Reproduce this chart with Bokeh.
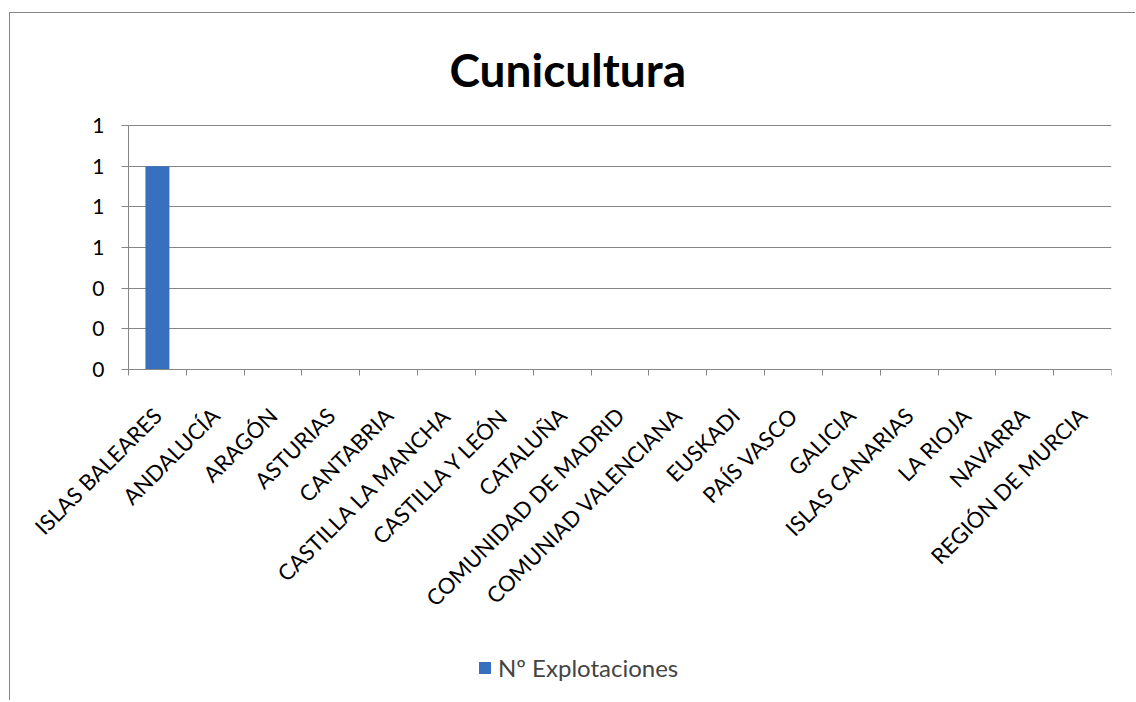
import math
from bokeh.plotting import figure
from bokeh.models import Range1d, FixedTicker, ColumnDataSource, Legend, LegendItem, Title
from bokeh.embed import file_html
from bokeh.resources import INLINE

# ---- data ----
categories = ["ISLAS BALEARES", "ANDALUCÍA", "ARAGÓN", "ASTURIAS", "CANTABRIA",
              "CASTILLA LA MANCHA", "CASTILLA Y LEÓN", "CATALUÑA", "COMUNIDAD DE MADRID",
              "COMUNIAD VALENCIANA", "EUSKADI", "PAÍS VASCO", "GALICIA", "ISLAS CANARIAS",
              "LA RIOJA", "NAVARRA", "REGIÓN DE MURCIA"]
explotaciones = [1, 0, 0, 0, 0, 0, 0, 0, 0, 0, 0, 0, 0, 0, 0, 0, 0]
y_ticks = [0, 0.2, 0.4, 0.6, 0.8, 1, 1.2]
y_tick_labels = ["0", "0", "0", "1", "1", "1", "1"]
series_name = "Nº Explotaciones"
title_text = "Cunicultura"

GRAY = "#868686"
FONT = "Lato"

# ---- layout plan (pixels, canvas coordinates) ----
W, H = 1126, 688
TOP, LEFT, RIGHT, BOTTOM = 95, 3, 25, 5
AXIS_TOP = 112          # canvas y of the top of the value axis
AXIS_H = 244            # height of the value axis (0 .. 1.2)
AXIS_W = 983            # width of the category axis
AXIS_X0 = 118           # canvas x of the value axis
Y_MAX = 1.2
n = len(categories)

px_y = AXIS_H / Y_MAX
frame_h = H - TOP - BOTTOM
y_end = Y_MAX + (AXIS_TOP - TOP) / px_y
y_start = y_end - frame_h / px_y

px_x = AXIS_W / n
frame_w = W - LEFT - RIGHT
x_end = n
x_start = x_end - frame_w / px_x

centers = [i + 0.5 for i in range(n)]
source = ColumnDataSource(dict(x=centers, top=explotaciones, cat=categories))

p = figure(width=W, height=H,
           x_range=Range1d(x_start, x_end), y_range=Range1d(y_start, y_end),
           output_backend="svg", toolbar_location=None,
           min_border_left=LEFT, min_border_right=RIGHT,
           min_border_top=TOP, min_border_bottom=BOTTOM)
p.styles = {"border-left": "1px solid " + GRAY, "border-top": "1px solid " + GRAY,
            "margin-left": "9px", "margin-top": "12px"}
p.outline_line_color = None
p.background_fill_color = "white"
p.border_fill_color = "white"

p.title = Title(text=title_text, align="left", offset=AXIS_X0 - LEFT + 321, standoff=24,
                text_font=FONT, text_font_size="46px", text_font_style="bold",
                text_color="black")

# horizontal grid lines, limited to the category span
if "cross_bounds" in p.ygrid[0].properties():
    p.ygrid.cross_bounds = (0, n)
    p.ygrid.grid_line_color = GRAY
    p.ygrid.grid_line_width = 1
else:
    p.ygrid.visible = False
    p.segment(x0=[0] * len(y_ticks), x1=[n] * len(y_ticks), y0=y_ticks, y1=y_ticks,
              line_color=GRAY, line_width=1)
p.xgrid.visible = False

r = p.vbar(x="x", top="top", width=0.415, source=source,
           fill_color="#3670BE", line_color=None)

# x axis (drawn at value 0)
xa = p.xaxis[0]
xa.fixed_location = 0
xa.bounds = (0, n)
xa.ticker = FixedTicker(ticks=centers, minor_ticks=list(range(n + 1)))
xa.major_label_overrides = {c: lab for c, lab in zip(centers, categories)}
xa.major_label_orientation = math.pi / 4
xa.major_tick_in = 0
xa.major_tick_out = 0
xa.minor_tick_in = 0
xa.minor_tick_out = 6
xa.minor_tick_line_color = GRAY
xa.axis_line_color = GRAY
xa.major_label_standoff = 36
xa.major_label_text_font = FONT
xa.major_label_text_font_size = "22px"
xa.major_label_text_color = "black"

# y axis (drawn at category position 0)
ya = p.yaxis[0]
ya.fixed_location = 0
ya.ticker = FixedTicker(ticks=y_ticks)
ya.bounds = (0, Y_MAX)
ya.major_label_overrides = {t: lab for t, lab in zip(y_ticks, y_tick_labels)}
ya.major_tick_in = 0
ya.major_tick_out = 7
ya.minor_tick_line_color = None
ya.major_tick_line_color = GRAY
ya.axis_line_color = GRAY
ya.major_label_standoff = 17
ya.major_label_text_font = FONT
ya.major_label_text_font_size = "21px"
ya.major_label_text_color = "black"

legend = Legend(items=[LegendItem(label=series_name, renderers=[r])],
                location=(AXIS_X0 - LEFT + 349, 14), orientation="horizontal",
                label_text_font=FONT, label_text_font_size="24px",
                glyph_width=15, glyph_height=15, label_standoff=6,
                padding=0, margin=0, spacing=0,
                border_line_color=None, background_fill_alpha=0)
p.add_layout(legend)

open("out.html", "w").write(file_html(p, INLINE))
